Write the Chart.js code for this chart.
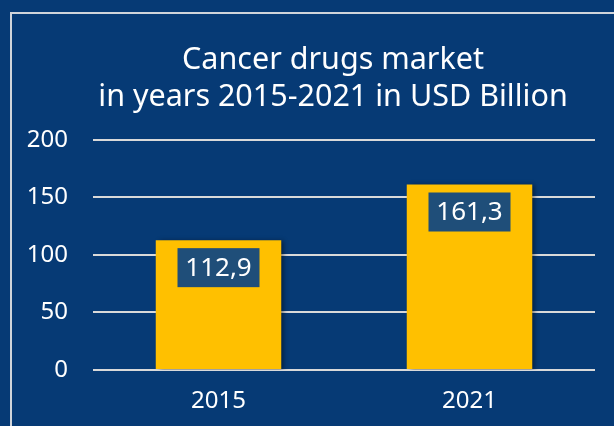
<!DOCTYPE html>
<html>
<head>
<meta charset="utf-8">
<script src="https://cdn.jsdelivr.net/npm/chart.js@4"></script>
<style>
  html, body { margin: 0; padding: 0; background: #063a75; }
  #wrap { position: relative; width: 614px; height: 426px; overflow: hidden; }
  #frame { position: absolute; left: 10px; top: 12px; width: 700px; height: 500px;
           border-left: 2px solid #d0d4da; border-top: 2px solid #d0d4da; }
  canvas { position: absolute; left: 0; top: 0; }
</style>
</head>
<body>
<div id="wrap">
  <div id="frame"></div>
  <canvas id="chart" width="614" height="426"></canvas>
</div>
<script>
const years = ["2015", "2021"]
const marketValues = [112.9, 161.3]
const valueLabels = ["112,9", "161,3"]
const titleLines = ["Cancer drugs market", "in years 2015-2021 in USD Billion"]

const FONT = "'Noto Sans', 'Open Sans', sans-serif"

// dark label boxes inside the top of each bar
const valueBoxes = {
  id: "valueBoxes",
  afterDatasetsDraw(chart) {
    const ctx = chart.ctx
    const meta = chart.getDatasetMeta(0)
    ctx.save()
    ctx.font = "26px " + FONT
    ctx.textAlign = "center"
    ctx.textBaseline = "middle"
    meta.data.forEach((bar, i) => {
      const w = 82, h = 39
      const top = bar.y + 8
      ctx.fillStyle = "#1f4e79"
      ctx.fillRect(bar.x - w / 2, top, w, h)
      ctx.fillStyle = "#ffffff"
      ctx.fillText(valueLabels[i], bar.x, top + h / 2 + 1)
    })
    ctx.restore()
  },
}

// soft shadow on the bars
const barShadow = {
  id: "barShadow",
  beforeDatasetDraw(chart) {
    const ctx = chart.ctx
    ctx.save()
    ctx.shadowColor = "rgba(0,0,0,0.45)"
    ctx.shadowBlur = 5
    ctx.shadowOffsetX = 3
    ctx.shadowOffsetY = 1
  },
  afterDatasetDraw(chart) {
    chart.ctx.restore()
  },
}

// the original title sits a bit right of the canvas centre
const shiftTitle = {
  id: "shiftTitle",
  afterLayout(chart) {
    if (chart.titleBlock) chart.titleBlock.left = 71
  },
}

new Chart(document.getElementById("chart"), {
  type: "bar",
  data: {
    labels: years,
    datasets: [
      {
        data: marketValues,
        backgroundColor: "#ffc000",
        borderWidth: 0,
        barPercentage: 0.5,
        categoryPercentage: 1,
      },
    ],
  },
  options: {
    responsive: false,
    animation: false,
    layout: { padding: { left: 0, right: 19, top: 0, bottom: 0 } },
    plugins: {
      legend: { display: false },
      tooltip: { enabled: false },
      title: {
        display: true,
        text: titleLines,
        color: "#ffffff",
        font: { family: FONT, size: 30.5, weight: "normal", lineHeight: 1.213 },
        padding: { top: 42, bottom: 24 },
        align: "center",
      },
    },
    scales: {
      x: {
        grid: { display: false },
        border: { display: false },
        ticks: { color: "#ffffff", font: { family: FONT, size: 24 }, padding: 9 },
        afterFit: (axis) => { axis.height = 56 },
      },
      y: {
        min: 0,
        max: 200,
        ticks: { stepSize: 50, color: "#ffffff", font: { family: FONT, size: 24 }, padding: 25 },
        grid: { color: "#d9d9d9", lineWidth: 2, drawTicks: false },
        border: { display: false },
        afterFit: (axis) => { axis.width = 93 },
      },
    },
  },
  plugins: [barShadow, valueBoxes, shiftTitle],
})
</script>
</body>
</html>
